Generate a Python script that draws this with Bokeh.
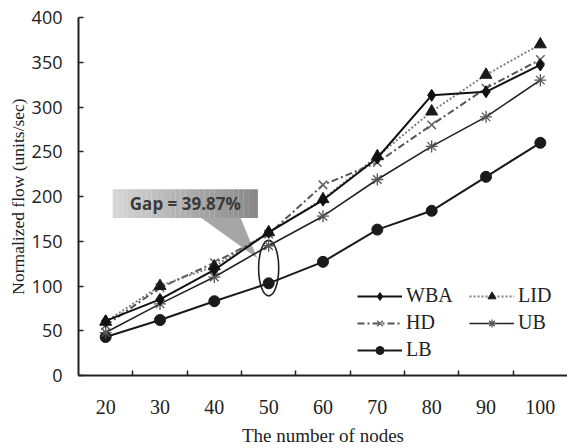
from bokeh.plotting import figure
from bokeh.models import (Range1d, FixedTicker, Legend, LegendItem, Label, Title, ColumnDataSource)
from bokeh.embed import file_html
from bokeh.resources import INLINE

nodes = [20, 30, 40, 50, 60, 70, 80, 90, 100]
wba = [61, 85, 118, 160, 196, 243, 313, 317, 347]
lid = [60, 100, 122, 160, 197, 245, 295, 336, 370]
hd = [56, 98, 126, 158, 213, 238, 280, 321, 353]
ub = [48, 80, 110, 145, 178, 219, 256, 289, 330]
lb = [43, 62, 83, 103, 127, 163, 184, 222, 260]
y_ticks = [0, 50, 100, 150, 200, 250, 300, 350, 400]
gap_text = "Gap = 39.87%"
y_title = "Normalized flow (units/sec)"
x_title = "The number of nodes"

p = figure(width=567, height=448, output_backend="svg", toolbar_location=None,
           x_range=Range1d(15, 105), y_range=Range1d(0, 400),
           min_border_left=78, min_border_right=0, min_border_top=17, min_border_bottom=73)
p.outline_line_color = None
p.xgrid.grid_line_color = None
p.ygrid.grid_line_color = None
p.background_fill_color = "white"

boundaries = [(a + b) / 2 for a, b in zip(nodes[:-1], nodes[1:])]
p.xaxis.ticker = FixedTicker(ticks=nodes, minor_ticks=boundaries)
p.xaxis.major_tick_in = 0
p.xaxis.major_tick_out = 0
p.xaxis.minor_tick_in = 5
p.xaxis.minor_tick_out = 0
p.yaxis.ticker = FixedTicker(ticks=y_ticks)
p.yaxis.major_tick_in = 5
p.yaxis.major_tick_out = 0
p.yaxis.minor_tick_line_color = None

for ax in (p.xaxis[0], p.yaxis[0]):
    ax.axis_line_width = 2
    ax.axis_line_color = "#222222"
    ax.major_tick_line_color = "#222222"
    ax.major_tick_line_width = 1.5
    ax.minor_tick_line_color = "#222222"
    ax.minor_tick_line_width = 1.5
    ax.major_label_text_color = "#222222"
    ax.axis_label_text_color = "#222222"
    ax.axis_label_text_font = "Liberation Serif"
    ax.axis_label_text_font_size = "19px"
    ax.axis_label_text_font_style = "normal"

p.xaxis.major_label_text_font = "Liberation Serif"
p.xaxis.major_label_text_font_size = "20px"
p.xaxis.major_label_standoff = 24
p.xaxis.axis_label = x_title
p.xaxis.axis_label_standoff = 8

p.yaxis.major_label_text_font = "Open Sans"
p.yaxis.major_label_text_font_size = "18px"
p.yaxis.major_label_standoff = 16

# y title as a left-side title
p.add_layout(Title(text=y_title, align="center", standoff=2,
                   text_font="Liberation Serif", text_font_size="17.5px",
                   text_font_style="normal", text_color="#222222"), "left")

src = ColumnDataSource(dict(x=nodes, wba=wba, lid=lid, hd=hd, ub=ub, lb=lb))

# annotation: callout box with gradient
bx0, bx1, by0, by1 = 21.3, 48.0, 176, 208
n = 30
for i in range(n):
    t = i / (n - 1)
    c = int(214 - t * (214 - 136))
    col = "#%02x%02x%02x" % (c, c, c)
    xa = bx0 + (bx1 - bx0) * i / n
    xb = bx0 + (bx1 - bx0) * (i + 1) / n
    p.quad(left=xa, right=xb + 0.02, bottom=by0, top=by1, fill_color=col, line_color=None)
p.patch(x=[37.5, 44.8, 47.9], y=[176.5, 176.5, 131], fill_color="#a6a6a6", line_color=None)
p.add_layout(Label(x=(bx0 + bx1) / 2, y=(by0 + by1) / 2, text=gap_text, text_align="center",
                   text_baseline="middle", text_font="Open Sans", text_font_size="17px",
                   text_font_style="bold", text_color="#3a3a3a"))

# ellipse around gap at 50 nodes
p.ellipse(x=nodes[3], y=120, width=3.7, height=62, fill_color=None, line_color="#222222", line_width=1.6)

# series
l_lb = p.line("x", "lb", source=src, line_color="#1a1a1a", line_width=2)
m_lb = p.scatter("x", "lb", source=src, marker="circle", size=11, fill_color="#1a1a1a", line_color="#1a1a1a")
l_ub = p.line("x", "ub", source=src, line_color="#222222", line_width=1.6)
m_ub = p.scatter("x", "ub", source=src, marker="asterisk", size=12, line_color="#555555", line_width=1.3)
l_hd = p.line("x", "hd", source=src, line_color="#555555", line_width=2, line_dash="7 3 2 3")
m_hd = p.scatter("x", "hd", source=src, marker="x", size=12, line_color="#666666", line_width=1.5)
l_lid = p.line("x", "lid", source=src, line_color="#808080", line_width=2, line_dash="2 2")
m_lid = p.scatter("x", "lid", source=src, marker="triangle", size=12, fill_color="#1a1a1a", line_color="#1a1a1a")
l_wba = p.line("x", "wba", source=src, line_color="#111111", line_width=2)
m_wba = p.scatter("x", "wba", source=src, marker="diamond", size=12, fill_color="#111111", line_color="#111111")

common = dict(orientation="vertical", glyph_width=45, glyph_height=20, label_height=20,
              spacing=4, padding=0, margin=0, border_line_color=None, background_fill_alpha=0,
              label_text_font="Liberation Serif", label_text_font_size="20px", label_standoff=4,
              label_text_color="#222222")
leg1 = Legend(items=[LegendItem(label="WBA", renderers=[l_wba, m_wba]),
                     LegendItem(label="HD", renderers=[l_hd, m_hd]),
                     LegendItem(label="LB", renderers=[l_lb, m_lb])],
              location=(279, 14), **common)
leg2 = Legend(items=[LegendItem(label="LID", renderers=[l_lid, m_lid]),
                     LegendItem(label="UB", renderers=[l_ub, m_ub])],
              location=(391, 41), **common)
p.add_layout(leg1)
p.add_layout(leg2)

open("out.html", "w").write(file_html(p, INLINE))
